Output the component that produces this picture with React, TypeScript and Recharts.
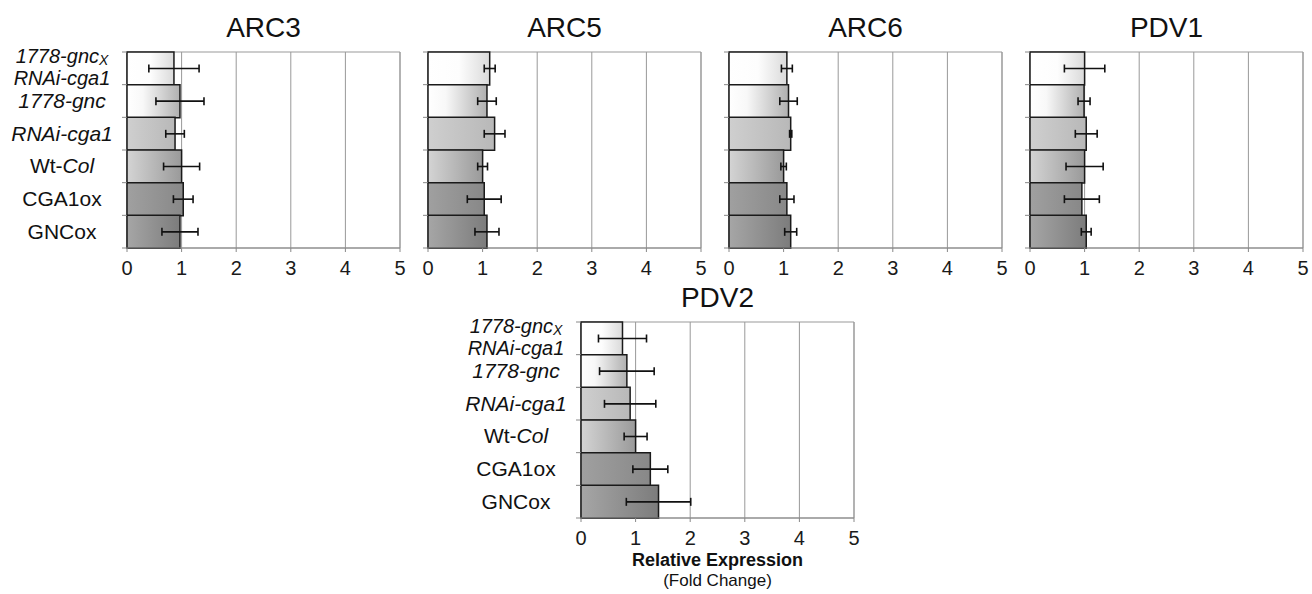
import React from 'react';
import { BarChart, Bar, XAxis, YAxis, CartesianGrid, ErrorBar, Cell, ReferenceArea } from 'recharts';

// ---- data ----
const categories = ['1778-gnc x RNAi-cga1', '1778-gnc', 'RNAi-cga1', 'Wt-Col', 'CGA1ox', 'GNCox'];
const xTicks = [0, 1, 2, 3, 4, 5];

const arc3Values = [0.86, 0.97, 0.88, 1.0, 1.03, 0.97];
const arc3Errors = [0.46, 0.44, 0.17, 0.33, 0.18, 0.33];
const arc5Values = [1.13, 1.08, 1.22, 1.0, 1.03, 1.08];
const arc5Errors = [0.1, 0.17, 0.19, 0.09, 0.31, 0.22];
const arc6Values = [1.06, 1.09, 1.13, 1.0, 1.06, 1.13];
const arc6Errors = [0.1, 0.16, 0.02, 0.05, 0.13, 0.11];
const pdv1Values = [1.0, 0.99, 1.03, 1.0, 0.95, 1.03];
const pdv1Errors = [0.37, 0.11, 0.2, 0.34, 0.32, 0.09];
const pdv2Values = [0.76, 0.84, 0.9, 1.0, 1.27, 1.42];
const pdv2Errors = [0.44, 0.5, 0.47, 0.21, 0.32, 0.59];

// tick label segments: t = text, i = italic, sub = subscript
type Seg = { t: string; i?: boolean; sub?: boolean };
const tickLabelLines: Seg[][][] = [
  [[{ t: '1778-gnc', i: true }, { t: 'X', i: true, sub: true }], [{ t: 'RNAi-cga1', i: true }]],
  [[{ t: '1778-gnc', i: true }]],
  [[{ t: 'RNAi-cga1', i: true }]],
  [[{ t: 'Wt-' }, { t: 'Col', i: true }]],
  [[{ t: 'CGA1ox' }]],
  [[{ t: 'GNCox' }]],
];

// ---- styles ----
const gradients = [
  [['0', '#ffffff'], ['0.5', '#fdfdfd'], ['1', '#dadada']],
  [['0', '#ffffff'], ['0.3', '#f8f8f8'], ['1', '#b0b0b0']],
  [['0', '#cfcfcf'], ['1', '#b8b8b8']],
  [['0', '#d4d4d4'], ['1', '#9a9a9a']],
  [['0', '#a0a0a0'], ['1', '#888888']],
  [['0', '#a6a6a6'], ['1', '#7c7c7c']],
];

const FONT = '"Liberation Sans", Arial, Helvetica, sans-serif';
const PLOT_W = 273;
const PLOT_H = 196;
const TOP_PAD = 10;
const RIGHT_PAD = 12;
const XAXIS_H = 42;

function CatTick(props: any) {
  const { x, y, payload, index, showText } = props;
  const off = payload && typeof payload.offset === 'number' ? payload.offset : PLOT_H / 12;
  const n = categories.length;
  const lines = tickLabelLines[index] || [];
  const cx = x - 65;
  const two = lines.length > 1;
  const fs = two ? 20 : 21;
  return (
    <g>
      <line x1={x} x2={x - 5} y1={y - off} y2={y - off} stroke="#888" strokeWidth={1} />
      {index === n - 1 && <line x1={x} x2={x - 5} y1={y + off} y2={y + off} stroke="#888" strokeWidth={1} />}
      {showText &&
        lines.map((line, li) => {
          const base = !two ? y + 7 : li === 0 ? y - 5 : y + 17;
          return (
            <text key={li} x={cx} y={base} textAnchor="middle" fontSize={fs} fill="#111" fontFamily={FONT}>
              {line.map((s, si) => (
                <tspan
                  key={si}
                  fontStyle={s.i ? 'italic' : 'normal'}
                  fontSize={s.sub ? 14 : fs}
                  dy={s.sub ? 2 : 0}
                >
                  {s.t}
                </tspan>
              ))}
            </text>
          );
        })}
    </g>
  );
}

function Panel(props: {
  title: string;
  values: number[];
  errors: number[];
  plotLeft: number;
  plotTop: number;
  labels: boolean;
}) {
  const { title, values, errors, plotLeft, plotTop, labels } = props;
  const yw = labels ? 127 : 20;
  const data = categories.map((name, i) => ({ name, value: values[i], err: errors[i] }));
  const width = yw + PLOT_W + RIGHT_PAD;
  const height = TOP_PAD + PLOT_H + XAXIS_H;
  return (
    <>
      <div
        style={{
          position: 'absolute',
          left: plotLeft - 40,
          width: PLOT_W + 80,
          top: plotTop - 38,
          textAlign: 'center',
          fontSize: 28,
          lineHeight: '28px',
          color: '#111',
          fontFamily: FONT,
        }}
      >
        {title}
      </div>
      <div style={{ position: 'absolute', left: plotLeft - yw, top: plotTop - TOP_PAD }}>
        <BarChart
          width={width}
          height={height}
          data={data}
          layout="vertical"
          barCategoryGap={0}
          barGap={0}
          margin={{ top: TOP_PAD, right: RIGHT_PAD, bottom: 0, left: 0 }}
        >
          <CartesianGrid horizontal={false} stroke="#999" strokeWidth={1} />
          <ReferenceArea x1={0} x2={5} fill="none" stroke="#999" strokeWidth={1} ifOverflow="visible" />
          <XAxis
            type="number"
            domain={[0, 5]}
            ticks={xTicks}
            interval={0}
            height={XAXIS_H}
            axisLine={{ stroke: '#888' }}
            tickLine={{ stroke: '#888' }}
            tickSize={4}
            tickMargin={9}
            tick={{ fontSize: 20, fill: '#1a1a1a', fontFamily: FONT }}
          />
          <YAxis
            type="category"
            dataKey="name"
            width={yw}
            axisLine={false}
            tickLine={false}
            tickSize={0}
            tickMargin={0}
            interval={0}
            tick={(p: any) => <CatTick {...p} showText={labels} />}
          />
          <Bar dataKey="value" stroke="#1a1a1a" strokeWidth={1.5} isAnimationActive={false}>
            {data.map((_, i) => (
              <Cell key={i} fill={`url(#barGrad${i})`} />
            ))}
            <ErrorBar dataKey="err" direction="x" width={4} stroke="#111" strokeWidth={1.6} isAnimationActive={false} />
          </Bar>
        </BarChart>
      </div>
    </>
  );
}

export default function App() {
  return (
    <div
      style={{
        position: 'absolute',
        left: 0,
        top: 0,
        width: 1312,
        height: 594,
        background: '#fff',
        fontFamily: FONT,
        overflow: 'hidden',
      }}
    >
      <svg width={0} height={0} style={{ position: 'absolute' }}>
        <defs>
          {gradients.map((stops, i) => (
            <linearGradient key={i} id={`barGrad${i}`} x1="0" y1="0" x2="1" y2="0">
              {stops.map(([o, c], j) => (
                <stop key={j} offset={o} stopColor={c} />
              ))}
            </linearGradient>
          ))}
        </defs>
      </svg>
      <Panel title="ARC3" values={arc3Values} errors={arc3Errors} plotLeft={127} plotTop={52} labels />
      <Panel title="ARC5" values={arc5Values} errors={arc5Errors} plotLeft={428} plotTop={52} labels={false} />
      <Panel title="ARC6" values={arc6Values} errors={arc6Errors} plotLeft={729} plotTop={52} labels={false} />
      <Panel title="PDV1" values={pdv1Values} errors={pdv1Errors} plotLeft={1030} plotTop={52} labels={false} />
      <Panel title="PDV2" values={pdv2Values} errors={pdv2Errors} plotLeft={581} plotTop={322} labels />
      <div
        style={{
          position: 'absolute',
          left: 581,
          width: PLOT_W,
          top: 550,
          textAlign: 'center',
          fontSize: 18,
          fontWeight: 'bold',
          lineHeight: '20px',
          color: '#111',
        }}
      >
        Relative Expression
      </div>
      <div
        style={{
          position: 'absolute',
          left: 581,
          width: PLOT_W,
          top: 571,
          textAlign: 'center',
          fontSize: 17,
          lineHeight: '20px',
          color: '#111',
        }}
      >
        (Fold Change)
      </div>
    </div>
  );
}
